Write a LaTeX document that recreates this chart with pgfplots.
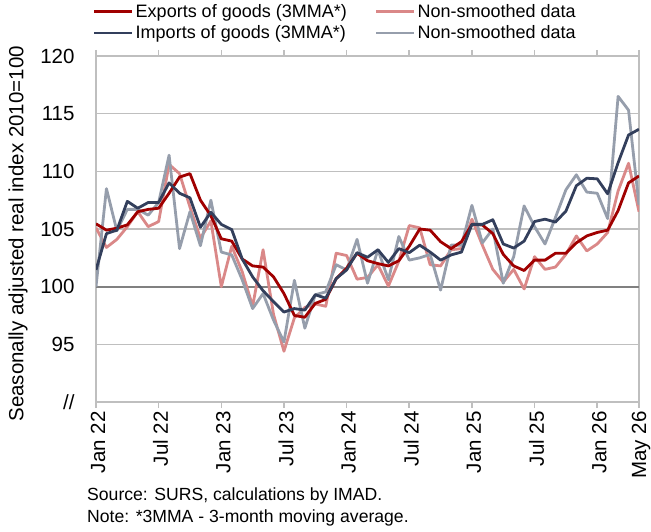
\documentclass[border=0pt]{standalone}
\usepackage{pgfplots}
\pgfplotsset{compat=1.18}
\usepackage{pgfplotstable}
\usepackage{fontspec}
\setmainfont{Liberation Sans}
\definecolor{expd}{RGB}{160,0,0}
\definecolor{expl}{RGB}{218,136,136}
\definecolor{impd}{RGB}{51,63,92}
\definecolor{impl}{RGB}{150,158,172}
\definecolor{gridc}{RGB}{191,191,191}
\definecolor{zeroc}{RGB}{128,128,128}

\pgfplotstableread{
i e er im ir
0 105.45 105.1 101.45 100.0
1 104.9 103.4 104.6 108.5
2 105.07 104.1 104.9 104.85
3 105.36 105.2 107.4 106.7
4 106.5 106.5 106.8 106.7
5 106.7 105.2 107.3 106.2
6 106.8 105.65 107.3 107.3
7 108.1 110.6 109.0 111.4
8 109.5 109.8 108.1 103.3
9 109.8 106.9 107.7 106.5
10 107.5 104.2 105.15 103.55
11 106.15 105.7 106.45 107.5
12 104.15 100.0 105.4 103.0
13 103.95 103.5 104.95 102.75
14 102.4 101.3 102.4 100.6
15 101.8 98.3 100.85 98.1
16 101.7 103.2 99.65 99.4
17 100.85 97.6 98.7 97.1
18 99.4 94.4 97.8 95.2
19 97.5 97.3 98.1 100.55
20 97.35 98.2 97.97 96.4
21 98.55 98.5 99.3 99.3
22 98.9 98.3 99.0 99.55
23 100.7 102.9 100.7 101.9
24 101.6 102.7 101.45 101.45
25 102.9 100.65 102.95 104.1
26 102.25 100.8 102.55 100.3
27 102.0 101.9 103.2 103.2
28 101.8 100.05 102.1 100.6
29 102.25 102.2 103.3 104.35
30 103.5 105.3 102.95 102.3
31 105.0 105.1 103.6 102.5
32 104.9 101.9 103.0 102.8
33 103.9 101.8 102.3 99.7
34 103.3 103.2 102.75 103.6
35 103.9 103.3 103.0 103.6
36 105.4 105.85 105.4 107.05
37 105.35 103.6 105.4 103.8
38 104.6 101.5 105.8 105.0
39 102.8 100.4 103.7 100.3
40 101.8 101.5 103.35 102.6
41 101.4 99.8 103.95 107.0
42 102.3 102.6 105.65 105.2
43 102.3 101.5 105.85 103.7
44 102.9 101.7 105.6 106.0
45 102.9 102.8 106.55 108.4
46 103.8 104.4 108.75 109.7
47 104.4 103.1 109.4 108.2
48 104.7 103.7 109.35 108.1
49 104.9 104.7 108.05 105.9
50 106.6 108.3 110.75 116.5
51 109.0 110.7 113.15 115.3
52 109.6 106.5 113.65 107.1
}\data

\begin{document}
\begin{tikzpicture}
\begin{axis}[
  at={(96bp,130bp)}, anchor=south west,
  scale only axis, width=543bp, height=346bp,
  xmin=0, xmax=52, ymin=90, ymax=120,
  xtick={0,6,12,18,24,30,36,42,48,52},
  xticklabels={Jan 22,Jul 22,Jan 23,Jul 23,Jan 24,Jul 24,Jan 25,Jul 25,Jan 26,May 26},
  ytick={90,95,100,105,110,115,120},
  yticklabels={//,95,100,105,110,115,120},
  /pgf/number format/assume math mode=true,
  ymajorgrids,
  grid style={color=gridc, line width=1.6bp},
  axis line style={color=gridc, line width=1.6bp},
  tick align=outside,
  major tick length=6bp,
  xtick style={color=gridc, line width=1.6bp},
  ytick style={draw=none},
  x tick label style={rotate=90, anchor=east, font=\fontsize{20.5bp}{24bp}\selectfont, yshift=-2bp},
  y tick label style={font=\fontsize{20.5bp}{24bp}\selectfont, xshift=-12bp},
  extra y ticks={100},
  extra y tick labels={},
  extra y tick style={grid style={color=zeroc, line width=2.2bp}},
  ylabel={Seasonally adjusted real index 2010=100},
  ylabel style={at={(axis description cs:-0.1436,0.486)}, anchor=center, font=\fontsize{20.5bp}{24bp}\selectfont},
  legend image code/.code={\draw[#1] (0bp,0bp) -- (38bp,0bp);},
  legend columns=2,
  legend style={at={(axis description cs:-0.006,1.156)}, anchor=north west,
    draw=none, fill=none, inner sep=0pt,
    font=\fontsize{18bp}{21bp}\selectfont,
    row sep=3bp,
    nodes={inner sep=2bp},
    cells={anchor=west},
    /tikz/every even column/.append style={column sep=26bp}},
  every axis plot/.append style={line width=2.8bp, line join=round},
]
\addlegendimage{expd, line width=2.8bp}
\addlegendentry{Exports of goods (3MMA*)}
\addlegendimage{expl, line width=2.8bp}
\addlegendentry{Non-smoothed data}
\addlegendimage{impd, line width=2.8bp}
\addlegendentry{Imports of goods (3MMA*)}
\addlegendimage{impl, line width=2.8bp}
\addlegendentry{Non-smoothed data}
\addplot[expl, forget plot] table[x=i, y=er] {\data};
\addplot[impl, forget plot] table[x=i, y=ir] {\data};
\addplot[expd, forget plot] table[x=i, y=e] {\data};
\addplot[impd, forget plot] table[x=i, y=im] {\data};
\end{axis}
\node[anchor=west, inner sep=0pt, font=\fontsize{17.6bp}{21bp}\selectfont] at (87bp,36bp) {Source: SURS, calculations by IMAD.};
\node[anchor=west, inner sep=0pt, font=\fontsize{17.6bp}{21bp}\selectfont] at (87bp,14bp) {Note: *3MMA - 3-month moving average.};
\pgfresetboundingbox
\path[use as bounding box] (0,0) rectangle (651bp,532bp);
\end{tikzpicture}
\end{document}
